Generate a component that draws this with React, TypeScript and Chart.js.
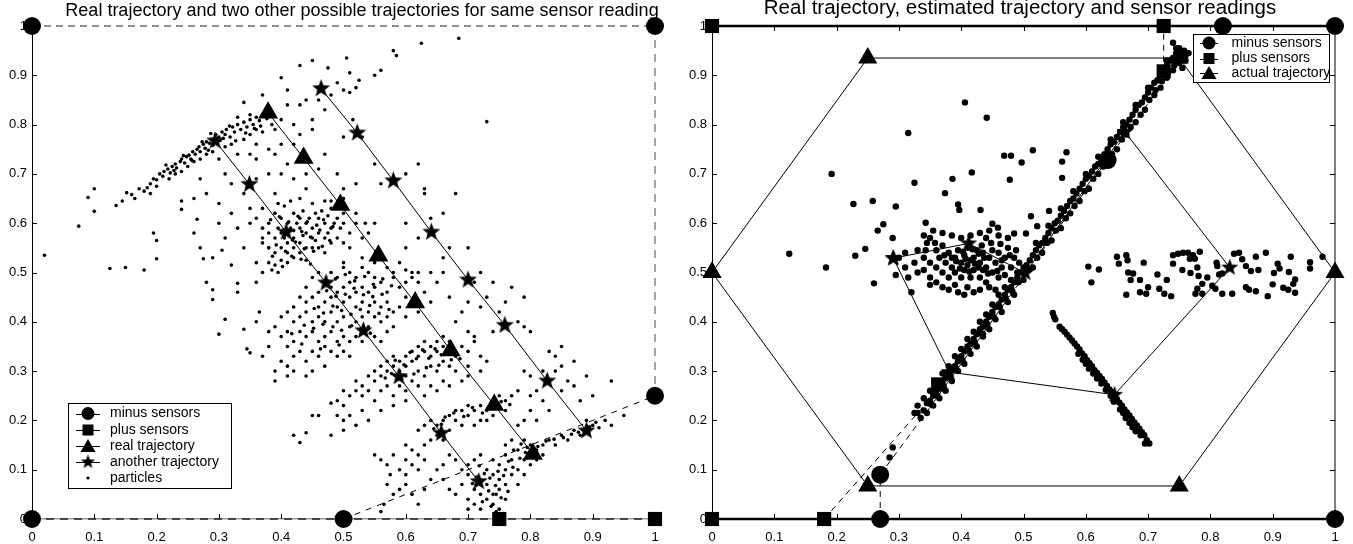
import React, { useEffect, useRef } from "react";
import { Chart, registerables } from "chart.js";

Chart.register(...registerables);

const FONT = "'Liberation Sans', Arial, Helvetica, sans-serif";

const tickValues = [0, 0.1, 0.2, 0.3, 0.4, 0.5, 0.6, 0.7, 0.8, 0.9, 1];
const tickLabels = ["0", "0.1", "0.2", "0.3", "0.4", "0.5", "0.6", "0.7", "0.8", "0.9", "1"];

// ---------------- LEFT CHART DATA ----------------
const leftTitle = "Real trajectory and two other possible trajectories for same sensor reading";
const leftLegendLabels = ["minus sensors", "plus sensors", "real trajectory", "another trajectory", "particles"];

const leftMinusX = [0, 1, 0, 0.5, 1];
const leftMinusY = [1, 1, 0, 0, 0.25];
const leftPlusX = [0.75, 1];
const leftPlusY = [0, 0];
const leftRealX = [0.379, 0.436, 0.495, 0.556, 0.615, 0.672, 0.742, 0.804];
const leftRealY = [0.824, 0.732, 0.637, 0.534, 0.439, 0.342, 0.231, 0.132];
const leftStarAX = [0.294, 0.349, 0.408, 0.472, 0.532, 0.589, 0.657, 0.717];
const leftStarAY = [0.767, 0.679, 0.582, 0.479, 0.382, 0.289, 0.174, 0.076];
const leftStarBX = [0.464, 0.522, 0.58, 0.641, 0.7, 0.759, 0.827, 0.89];
const leftStarBY = [0.873, 0.783, 0.686, 0.582, 0.485, 0.393, 0.28, 0.179];
const leftTopLineX = [0, 1];
const leftTopLineY = [1, 1];
const leftRightLineX = [1, 1];
const leftRightLineY = [1, 0.25];
const leftDiagLineX = [0.5, 1];
const leftDiagLineY = [0, 0.25];
const leftBottomLineX = [0, 1];
const leftBottomLineY = [0, 0];

const leftStreak: [number, number][] = [
  [0.135, 0.636], [0.145, 0.645], [0.152, 0.662], [0.16, 0.658], [0.165, 0.65], [0.172, 0.67], [0.18, 0.665],
  [0.185, 0.672], [0.19, 0.68], [0.195, 0.69], [0.2, 0.688], [0.205, 0.7], [0.21, 0.695], [0.212, 0.705],
  [0.218, 0.71], [0.222, 0.702], [0.225, 0.715], [0.23, 0.72], [0.232, 0.712], [0.238, 0.725], [0.24, 0.73],
  [0.245, 0.722], [0.248, 0.735], [0.252, 0.738], [0.255, 0.73], [0.258, 0.745], [0.262, 0.74], [0.265, 0.75],
  [0.268, 0.755], [0.27, 0.745], [0.275, 0.76], [0.278, 0.752], [0.28, 0.765], [0.285, 0.762], [0.288, 0.77],
  [0.29, 0.758], [0.295, 0.78], [0.3, 0.775], [0.302, 0.768], [0.305, 0.785], [0.31, 0.78], [0.312, 0.79],
  [0.318, 0.775], [0.322, 0.795], [0.325, 0.785], [0.33, 0.8], [0.335, 0.79], [0.34, 0.805], [0.345, 0.795],
  [0.35, 0.81], [0.355, 0.8], [0.36, 0.815], [0.365, 0.808], [0.37, 0.82], [0.2, 0.675], [0.22, 0.69],
  [0.24, 0.705], [0.26, 0.725], [0.27, 0.73], [0.29, 0.745], [0.31, 0.755], [0.25, 0.715], [0.19, 0.66],
  [0.23, 0.7], [0.28, 0.74], [0.3, 0.73], [0.32, 0.76], [0.34, 0.77], [0.33, 0.74], [0.35, 0.78], [0.36, 0.76],
  [0.215, 0.718], [0.228, 0.707], [0.243, 0.737], [0.257, 0.727], [0.273, 0.765], [0.283, 0.748],
  [0.297, 0.763], [0.307, 0.772], [0.317, 0.797], [0.327, 0.767], [0.343, 0.783], [0.357, 0.792],
  [0.367, 0.797], [0.377, 0.812], [0.287, 0.782],
];

const leftScatterWest: [number, number][] = [
  [0.02, 0.535], [0.075, 0.594], [0.09, 0.652], [0.1, 0.67], [0.1, 0.624], [0.125, 0.508], [0.15, 0.51],
  [0.18, 0.505], [0.195, 0.58], [0.2, 0.528], [0.2, 0.565], [0.24, 0.628], [0.24, 0.645], [0.26, 0.58],
  [0.265, 0.608], [0.27, 0.55], [0.275, 0.528], [0.28, 0.48], [0.29, 0.53], [0.29, 0.465], [0.29, 0.445],
  [0.3, 0.375], [0.31, 0.405], [0.33, 0.478], [0.33, 0.46], [0.34, 0.385], [0.345, 0.345], [0.35, 0.337],
  [0.3, 0.6], [0.31, 0.57], [0.32, 0.62], [0.33, 0.59], [0.34, 0.55], [0.35, 0.6], [0.36, 0.52], [0.37, 0.57],
  [0.28, 0.66], [0.3, 0.64], [0.32, 0.68], [0.34, 0.66], [0.36, 0.69], [0.38, 0.7], [0.39, 0.66], [0.4, 0.7],
  [0.42, 0.69], [0.44, 0.67], [0.31, 0.7], [0.27, 0.69], [0.26, 0.65], [0.32, 0.515], [0.305, 0.545],
  [0.38, 0.55], [0.37, 0.5], [0.36, 0.48],
];

const leftScatterNorth: [number, number][] = [
  [0.43, 0.92], [0.45, 0.93], [0.4, 0.895], [0.41, 0.87], [0.475, 0.915], [0.505, 0.935], [0.51, 0.905],
  [0.49, 0.885], [0.52, 0.875], [0.5, 0.87], [0.51, 0.865], [0.44, 0.85], [0.43, 0.84], [0.41, 0.84],
  [0.45, 0.81], [0.4, 0.81], [0.42, 0.8], [0.39, 0.79], [0.37, 0.785], [0.36, 0.79], [0.35, 0.82],
  [0.33, 0.815], [0.34, 0.845], [0.37, 0.86], [0.38, 0.83], [0.385, 0.8], [0.46, 0.85], [0.48, 0.86],
  [0.47, 0.83], [0.45, 0.79], [0.43, 0.78], [0.42, 0.76], [0.4, 0.76], [0.38, 0.75], [0.36, 0.73],
  [0.35, 0.74], [0.39, 0.74], [0.41, 0.72], [0.44, 0.7], [0.46, 0.71], [0.47, 0.74], [0.515, 0.81],
  [0.525, 0.89], [0.55, 0.9], [0.56, 0.91], [0.58, 0.95], [0.585, 0.94], [0.625, 0.965], [0.685, 0.975],
  [0.73, 0.806], [0.53, 0.775], [0.5, 0.775], [0.49, 0.7], [0.5, 0.67], [0.52, 0.68], [0.48, 0.645],
  [0.5, 0.65], [0.55, 0.72], [0.56, 0.68], [0.55, 0.6], [0.6, 0.6], [0.6, 0.7], [0.62, 0.72], [0.63, 0.66],
  [0.64, 0.61], [0.66, 0.53], [0.67, 0.55], [0.59, 0.52], [0.6, 0.55], [0.61, 0.49], [0.62, 0.5],
];

const leftClusterMid: [number, number][] = [
  [0.38, 0.6], [0.39, 0.62], [0.4, 0.61], [0.41, 0.6], [0.42, 0.62], [0.43, 0.61], [0.44, 0.6], [0.45, 0.59],
  [0.46, 0.61], [0.47, 0.6], [0.48, 0.59], [0.49, 0.61], [0.4, 0.58], [0.41, 0.56], [0.42, 0.57], [0.43, 0.59],
  [0.44, 0.58], [0.45, 0.57], [0.46, 0.58], [0.47, 0.57], [0.48, 0.56], [0.39, 0.57], [0.38, 0.58], [0.37, 0.59],
  [0.37, 0.56], [0.38, 0.55], [0.39, 0.54], [0.4, 0.55], [0.41, 0.54], [0.42, 0.55], [0.43, 0.56], [0.44, 0.55],
  [0.45, 0.55], [0.42, 0.53], [0.41, 0.52], [0.4, 0.525], [0.39, 0.515], [0.38, 0.52], [0.385, 0.505],
  [0.395, 0.5], [0.43, 0.54], [0.44, 0.525], [0.46, 0.55], [0.47, 0.54], [0.415, 0.59], [0.425, 0.6],
  [0.435, 0.625], [0.445, 0.61], [0.455, 0.62], [0.465, 0.625], [0.475, 0.615], [0.485, 0.6], [0.495, 0.59],
  [0.5, 0.6], [0.51, 0.58], [0.52, 0.6], [0.5, 0.56], [0.49, 0.57], [0.405, 0.635], [0.395, 0.64],
  [0.415, 0.645], [0.43, 0.65], [0.45, 0.64], [0.47, 0.645], [0.48, 0.63], [0.36, 0.61], [0.35, 0.63],
  [0.37, 0.63], [0.42, 0.585], [0.435, 0.575], [0.455, 0.565], [0.405, 0.57], [0.395, 0.59], [0.475, 0.58],
  [0.5, 0.62], [0.52, 0.62], [0.53, 0.57], [0.51, 0.55], [0.535, 0.6], [0.54, 0.58],
  [0.383, 0.607], [0.397, 0.613], [0.412, 0.603], [0.427, 0.614], [0.442, 0.603], [0.457, 0.596],
  [0.468, 0.607], [0.483, 0.593], [0.404, 0.586], [0.418, 0.566], [0.433, 0.583], [0.447, 0.572],
  [0.462, 0.586], [0.478, 0.565], [0.392, 0.556], [0.407, 0.543], [0.423, 0.562], [0.437, 0.548],
  [0.452, 0.543], [0.466, 0.553], [0.386, 0.533], [0.402, 0.512], [0.417, 0.533], [0.432, 0.527], [0.447, 0.517],
];

const leftCloudCentral: [number, number][] = [
  [0.48, 0.5], [0.49, 0.49], [0.5, 0.51], [0.51, 0.5], [0.52, 0.49], [0.53, 0.51], [0.54, 0.5], [0.55, 0.49],
  [0.47, 0.48], [0.48, 0.47], [0.49, 0.46], [0.5, 0.47], [0.51, 0.48], [0.52, 0.46], [0.53, 0.47], [0.54, 0.46],
  [0.55, 0.47], [0.56, 0.48], [0.57, 0.46], [0.58, 0.49], [0.59, 0.47], [0.6, 0.48], [0.61, 0.5], [0.46, 0.46],
  [0.45, 0.45], [0.44, 0.44], [0.43, 0.45], [0.42, 0.43], [0.46, 0.43], [0.47, 0.44], [0.48, 0.45], [0.49, 0.43],
  [0.5, 0.44], [0.51, 0.45], [0.52, 0.43], [0.53, 0.44], [0.54, 0.42], [0.55, 0.44], [0.56, 0.43], [0.57, 0.44],
  [0.58, 0.42], [0.59, 0.43], [0.6, 0.45], [0.41, 0.42], [0.4, 0.41], [0.42, 0.4], [0.43, 0.41], [0.44, 0.42],
  [0.45, 0.4], [0.46, 0.41], [0.47, 0.4], [0.48, 0.42], [0.49, 0.4], [0.5, 0.41], [0.51, 0.39], [0.52, 0.4],
  [0.53, 0.41], [0.54, 0.39], [0.55, 0.41], [0.56, 0.4], [0.57, 0.41], [0.58, 0.39], [0.39, 0.39], [0.38, 0.38],
  [0.4, 0.37], [0.41, 0.38], [0.42, 0.36], [0.43, 0.38], [0.44, 0.37], [0.45, 0.38], [0.46, 0.36], [0.47, 0.37],
  [0.48, 0.38], [0.49, 0.36], [0.5, 0.37], [0.51, 0.36], [0.52, 0.37], [0.53, 0.36], [0.55, 0.37], [0.56, 0.36],
  [0.57, 0.38], [0.41, 0.35], [0.42, 0.33], [0.43, 0.34], [0.44, 0.32], [0.45, 0.34], [0.46, 0.33], [0.47, 0.35],
  [0.48, 0.34], [0.49, 0.33], [0.5, 0.34], [0.51, 0.33], [0.4, 0.32], [0.39, 0.3], [0.41, 0.31], [0.42, 0.3],
  [0.44, 0.29], [0.45, 0.3], [0.47, 0.31], [0.39, 0.28], [0.41, 0.29], [0.37, 0.33], [0.38, 0.35], [0.36, 0.4],
  [0.365, 0.42], [0.5, 0.52], [0.46, 0.5], [0.45, 0.49], [0.44, 0.47], [0.53, 0.53], [0.55, 0.52], [0.57, 0.51],
  [0.58, 0.5], [0.6, 0.505], [0.62, 0.48], [0.63, 0.46], [0.61, 0.44], [0.62, 0.42], [0.6, 0.41], [0.64, 0.44],
  [0.487, 0.487], [0.503, 0.496], [0.518, 0.483], [0.534, 0.492], [0.548, 0.476], [0.563, 0.487],
  [0.473, 0.463], [0.488, 0.452], [0.503, 0.456], [0.517, 0.468], [0.532, 0.455], [0.547, 0.451],
  [0.562, 0.456], [0.577, 0.473], [0.453, 0.427], [0.468, 0.418], [0.483, 0.432], [0.497, 0.423],
  [0.512, 0.415], [0.527, 0.425], [0.542, 0.433], [0.557, 0.417], [0.573, 0.425], [0.437, 0.393],
  [0.452, 0.387], [0.467, 0.395], [0.483, 0.39], [0.497, 0.383], [0.513, 0.392], [0.528, 0.385],
  [0.543, 0.377], [0.417, 0.376], [0.433, 0.355], [0.463, 0.345], [0.493, 0.353],
];

const leftBandLower: [number, number][] = [
  [0.48, 0.235], [0.49, 0.24], [0.5, 0.23], [0.51, 0.25], [0.5, 0.26], [0.52, 0.26], [0.53, 0.25], [0.52, 0.28],
  [0.53, 0.27], [0.54, 0.29], [0.55, 0.28], [0.54, 0.26], [0.55, 0.3], [0.56, 0.29], [0.56, 0.31], [0.57, 0.3],
  [0.57, 0.32], [0.58, 0.31], [0.58, 0.33], [0.59, 0.32], [0.59, 0.3], [0.6, 0.33], [0.6, 0.31], [0.61, 0.34],
  [0.61, 0.32], [0.62, 0.35], [0.62, 0.33], [0.63, 0.34], [0.63, 0.36], [0.64, 0.35], [0.64, 0.33], [0.65, 0.36],
  [0.65, 0.34], [0.66, 0.37], [0.66, 0.35], [0.67, 0.36], [0.68, 0.33], [0.69, 0.35], [0.7, 0.34], [0.71, 0.36],
  [0.6, 0.29], [0.61, 0.28], [0.62, 0.3], [0.63, 0.29], [0.64, 0.31], [0.65, 0.3], [0.66, 0.32], [0.67, 0.31],
  [0.68, 0.3], [0.7, 0.31], [0.56, 0.26], [0.57, 0.27], [0.58, 0.25], [0.59, 0.27], [0.6, 0.26], [0.62, 0.27],
  [0.63, 0.25], [0.64, 0.27], [0.65, 0.26], [0.55, 0.24], [0.53, 0.22], [0.51, 0.21], [0.5, 0.2], [0.49, 0.21],
  [0.46, 0.21], [0.45, 0.21], [0.48, 0.17], [0.54, 0.2], [0.56, 0.22], [0.58, 0.23], [0.6, 0.24], [0.5, 0.18],
  [0.52, 0.19], [0.42, 0.17], [0.43, 0.155], [0.44, 0.175], [0.66, 0.28], [0.67, 0.27], [0.69, 0.28],
  [0.7, 0.29], [0.72, 0.3], [0.73, 0.32], [0.72, 0.33],
  [0.583, 0.322], [0.597, 0.313], [0.607, 0.338], [0.617, 0.325], [0.627, 0.343], [0.637, 0.326],
  [0.647, 0.345], [0.657, 0.333], [0.567, 0.286], [0.577, 0.295], [0.593, 0.283], [0.613, 0.294],
  [0.633, 0.307], [0.653, 0.312], [0.673, 0.323], [0.687, 0.325],
];

const leftBandSouthEast: [number, number][] = [
  [0.62, 0.18], [0.63, 0.19], [0.64, 0.2], [0.65, 0.19], [0.66, 0.2], [0.67, 0.21], [0.68, 0.2], [0.69, 0.22],
  [0.7, 0.21], [0.71, 0.22], [0.72, 0.23], [0.73, 0.22], [0.74, 0.24], [0.75, 0.25], [0.76, 0.24], [0.77, 0.25],
  [0.78, 0.26], [0.68, 0.22], [0.7, 0.23], [0.72, 0.2], [0.69, 0.19], [0.67, 0.18], [0.65, 0.17], [0.66, 0.16],
  [0.64, 0.16], [0.63, 0.15], [0.6, 0.15], [0.61, 0.14], [0.62, 0.13], [0.71, 0.19], [0.73, 0.2], [0.74, 0.21],
  [0.76, 0.22], [0.79, 0.2], [0.8, 0.22], [0.78, 0.19], [0.8, 0.25], [0.81, 0.26], [0.82, 0.24], [0.83, 0.22],
  [0.8, 0.29], [0.82, 0.3], [0.84, 0.3], [0.86, 0.28], [0.87, 0.27], [0.85, 0.26], [0.88, 0.24], [0.89, 0.29],
  [0.9, 0.25], [0.93, 0.28], [0.84, 0.33], [0.85, 0.31], [0.79, 0.3], [0.81, 0.2],
  [0.663, 0.207], [0.677, 0.215], [0.693, 0.208], [0.707, 0.226], [0.723, 0.215], [0.737, 0.232],
  [0.753, 0.238], [0.767, 0.232], [0.645, 0.183], [0.657, 0.192],
];

const leftClusterBottom: [number, number][] = [
  [0.56, 0.015], [0.565, 0.03], [0.55, 0.13], [0.56, 0.12], [0.57, 0.11], [0.58, 0.13], [0.575, 0.09],
  [0.59, 0.1], [0.6, 0.09], [0.61, 0.11], [0.62, 0.1], [0.6, 0.12], [0.57, 0.07], [0.59, 0.06], [0.61, 0.05],
  [0.63, 0.06], [0.64, 0.08], [0.65, 0.1], [0.66, 0.11], [0.67, 0.13], [0.68, 0.12], [0.66, 0.08], [0.67, 0.06],
  [0.68, 0.05], [0.69, 0.07], [0.7, 0.09], [0.7, 0.04], [0.71, 0.06], [0.72, 0.05], [0.73, 0.04], [0.72, 0.02],
  [0.73, 0.1], [0.74, 0.09], [0.75, 0.08], [0.76, 0.1], [0.74, 0.12], [0.75, 0.11], [0.76, 0.13], [0.77, 0.12],
  [0.78, 0.14], [0.79, 0.12], [0.8, 0.11], [0.78, 0.1], [0.77, 0.09], [0.75, 0.06], [0.76, 0.07], [0.74, 0.05],
  [0.73, 0.07], [0.74, 0.03], [0.75, 0.02], [0.745, 0.05], [0.76, 0.04], [0.7, 0.02], [0.71, 0.03], [0.78, 0.07],
  [0.79, 0.09], [0.8, 0.13], [0.81, 0.14], [0.82, 0.15], [0.83, 0.16], [0.84, 0.15], [0.85, 0.17], [0.86, 0.16],
  [0.87, 0.18], [0.88, 0.17], [0.9, 0.19], [0.92, 0.2], [0.93, 0.19], [0.95, 0.21], [0.91, 0.185], [0.89, 0.2],
  [0.77, 0.16], [0.76, 0.15], [0.79, 0.16], [0.8, 0.15], [0.81, 0.12], [0.82, 0.13], [0.72, 0.13], [0.71, 0.12],
  [0.7, 0.11], [0.69, 0.1], [0.63, 0.12], [0.6, 0.07], [0.58, 0.05], [0.62, 0.03],
  [0.713, 0.085], [0.726, 0.092], [0.735, 0.083], [0.748, 0.097], [0.757, 0.088], [0.765, 0.117],
  [0.772, 0.105], [0.783, 0.123], [0.792, 0.135], [0.803, 0.142], [0.733, 0.057], [0.744, 0.068],
  [0.753, 0.043], [0.764, 0.056], [0.723, 0.035], [0.737, 0.026], [0.745, 0.015], [0.707, 0.072],
  [0.718, 0.108], [0.812, 0.147], [0.825, 0.158], [0.838, 0.162], [0.853, 0.165], [0.866, 0.172],
  [0.877, 0.176], [0.895, 0.187], [0.905, 0.196], [0.795, 0.145], [0.785, 0.152], [0.773, 0.14],
];

const leftScatterEast: [number, number][] = [
  [0.68, 0.4], [0.69, 0.42], [0.7, 0.44], [0.72, 0.43], [0.73, 0.45], [0.75, 0.42], [0.76, 0.44], [0.78, 0.4],
  [0.79, 0.39], [0.8, 0.38], [0.7, 0.38], [0.71, 0.37], [0.74, 0.38], [0.67, 0.45], [0.65, 0.48], [0.64, 0.5],
  [0.66, 0.5], [0.71, 0.48], [0.74, 0.48], [0.72, 0.5], [0.77, 0.47], [0.79, 0.45], [0.83, 0.34], [0.85, 0.35],
  [0.87, 0.32], [0.62, 0.57], [0.66, 0.62], [0.68, 0.66], [0.63, 0.67], [0.7, 0.55],
];

// ---------------- RIGHT CHART DATA ----------------
const rightTitle = "Real trajectory, estimated trajectory and sensor readings";
const rightLegendLabels = ["minus sensors", "plus sensors", "actual trajectory"];

const rightActualX = [0, 0.25, 0.75, 1, 0.75, 0.25, 0];
const rightActualY = [0.5, 0.067, 0.067, 0.5, 0.935, 0.935, 0.5];
const rightEstX = [0.291, 0.381, 0.646, 0.831, 0.663, 0.503, 0.412, 0.291];
const rightEstY = [0.529, 0.298, 0.252, 0.51, 0.785, 0.499, 0.559, 0.529];
const rightMinusX = [0.82, 1, 0.27, 1, 0.27, 0.635];
const rightMinusY = [1, 1, 0, 0, 0.09, 0.728];
const rightPlusX = [0, 0.725, 0, 0.18, 0.725, 0.363];
const rightPlusY = [1, 1, 0, 0, 0.908, 0.273];
const rightPlusLineX = [0.18, 0.335, 0.725, 0.725];
const rightPlusLineY = [0, 0.222, 0.908, 1];
const rightMinusLineX = [0.27, 0.27, 0.345, 0.755];
const rightMinusLineY = [0, 0.09, 0.218, 0.94];
const rightTopLineX = [0, 1];
const rightTopLineY = [1, 1];
const rightBottomLineX = [0, 1];
const rightBottomLineY = [0, 0];
const rightEdgeLineX = [1, 1];
const rightEdgeLineY = [0, 1];

const rightDiagonal: [number, number][] = [
  [0.33, 0.215], [0.34, 0.22], [0.345, 0.235], [0.35, 0.24], [0.355, 0.25], [0.36, 0.26], [0.365, 0.265],
  [0.37, 0.275], [0.375, 0.285], [0.38, 0.295], [0.385, 0.305], [0.39, 0.31], [0.395, 0.32], [0.4, 0.33],
  [0.405, 0.34], [0.41, 0.35], [0.415, 0.355], [0.42, 0.365], [0.425, 0.375], [0.43, 0.385], [0.435, 0.39],
  [0.44, 0.4], [0.445, 0.41], [0.45, 0.42], [0.455, 0.43], [0.46, 0.435], [0.465, 0.445], [0.47, 0.455],
  [0.475, 0.465], [0.48, 0.47], [0.485, 0.48], [0.49, 0.49], [0.495, 0.5], [0.5, 0.51], [0.505, 0.515],
  [0.51, 0.525], [0.515, 0.535], [0.52, 0.545], [0.525, 0.555], [0.53, 0.56], [0.535, 0.57], [0.54, 0.58],
  [0.545, 0.59], [0.55, 0.6], [0.555, 0.605], [0.56, 0.615], [0.565, 0.625], [0.57, 0.635], [0.575, 0.645],
  [0.58, 0.65], [0.585, 0.66], [0.59, 0.67], [0.595, 0.68], [0.6, 0.69], [0.605, 0.695], [0.61, 0.705],
  [0.615, 0.715], [0.62, 0.72], [0.625, 0.73], [0.63, 0.74], [0.635, 0.75], [0.64, 0.76], [0.645, 0.765],
  [0.65, 0.775], [0.655, 0.785], [0.66, 0.795], [0.665, 0.8], [0.67, 0.81], [0.675, 0.82], [0.68, 0.83],
  [0.685, 0.84], [0.69, 0.845], [0.695, 0.855], [0.7, 0.865], [0.705, 0.875], [0.71, 0.885], [0.715, 0.89],
  [0.72, 0.9], [0.725, 0.91], [0.73, 0.92], [0.735, 0.93], [0.74, 0.935], [0.745, 0.945], [0.75, 0.955],
  [0.74, 0.966], [0.755, 0.935], [0.76, 0.94],
];

const rightDiagonalEdge: [number, number][] = [
  [0.345, 0.215], [0.355, 0.23], [0.365, 0.245], [0.375, 0.26], [0.385, 0.28], [0.395, 0.3], [0.405, 0.315],
  [0.415, 0.335], [0.425, 0.35], [0.435, 0.37], [0.445, 0.385], [0.455, 0.405], [0.465, 0.42], [0.475, 0.44],
  [0.485, 0.455], [0.5, 0.485], [0.515, 0.51], [0.53, 0.54], [0.545, 0.565], [0.56, 0.59], [0.575, 0.62],
  [0.59, 0.645], [0.605, 0.67], [0.62, 0.7], [0.635, 0.725], [0.65, 0.75], [0.665, 0.78], [0.68, 0.805],
  [0.695, 0.83], [0.71, 0.86], [0.72, 0.875], [0.73, 0.895], [0.74, 0.91], [0.75, 0.925], [0.76, 0.93],
  [0.755, 0.915], [0.745, 0.93], [0.765, 0.945], [0.33, 0.23], [0.34, 0.245], [0.35, 0.26], [0.36, 0.28],
  [0.37, 0.295], [0.38, 0.31], [0.39, 0.33], [0.4, 0.345], [0.41, 0.365], [0.42, 0.38], [0.43, 0.4],
  [0.44, 0.415], [0.45, 0.435], [0.46, 0.455], [0.52, 0.56], [0.54, 0.595], [0.56, 0.63], [0.58, 0.665],
  [0.6, 0.7], [0.62, 0.735], [0.64, 0.77], [0.66, 0.805], [0.68, 0.84], [0.7, 0.875], [0.72, 0.91],
  [0.73, 0.93], [0.29, 0.145], [0.285, 0.125], [0.325, 0.215], [0.335, 0.205], [0.43, 0.38], [0.435, 0.375],
  [0.352, 0.232], [0.362, 0.25], [0.372, 0.268], [0.382, 0.288], [0.392, 0.305], [0.402, 0.322],
  [0.412, 0.342], [0.422, 0.358], [0.432, 0.377], [0.442, 0.395], [0.452, 0.41], [0.462, 0.43],
  [0.472, 0.447], [0.482, 0.462], [0.492, 0.48], [0.508, 0.505], [0.522, 0.53], [0.538, 0.56],
  [0.552, 0.585], [0.568, 0.61], [0.582, 0.635], [0.598, 0.665], [0.612, 0.69], [0.628, 0.715],
  [0.642, 0.74], [0.658, 0.77], [0.672, 0.795], [0.688, 0.82], [0.702, 0.85], [0.712, 0.87], [0.722, 0.888],
  [0.732, 0.905], [0.742, 0.92], [0.752, 0.94], [0.745, 0.955], [0.758, 0.95],
];

const rightOutliersWest: [number, number][] = [
  [0.124, 0.538], [0.183, 0.51], [0.192, 0.7], [0.227, 0.639], [0.23, 0.534], [0.258, 0.645], [0.26, 0.478],
  [0.266, 0.585], [0.246, 0.548], [0.275, 0.598], [0.29, 0.57], [0.295, 0.634], [0.295, 0.495], [0.315, 0.783],
  [0.325, 0.682], [0.343, 0.601], [0.374, 0.661], [0.386, 0.69], [0.395, 0.638], [0.397, 0.627], [0.406, 0.845],
  [0.417, 0.703], [0.431, 0.627], [0.441, 0.814], [0.469, 0.737], [0.48, 0.737], [0.478, 0.688], [0.497, 0.723],
  [0.515, 0.748], [0.562, 0.725], [0.569, 0.744], [0.562, 0.692], [0.512, 0.614], [0.541, 0.625],
  [0.522, 0.594], [0.504, 0.579], [0.485, 0.579], [0.459, 0.591], [0.45, 0.599], [0.44, 0.57], [0.428, 0.538],
];

const rightClusterWest: [number, number][] = [
  [0.3, 0.53], [0.31, 0.54], [0.33, 0.545], [0.34, 0.53], [0.345, 0.56], [0.35, 0.57], [0.35, 0.52],
  [0.36, 0.545], [0.36, 0.51], [0.365, 0.53], [0.37, 0.5], [0.37, 0.555], [0.375, 0.52], [0.38, 0.54],
  [0.38, 0.49], [0.385, 0.51], [0.39, 0.53], [0.39, 0.5], [0.395, 0.545], [0.4, 0.52], [0.4, 0.49],
  [0.405, 0.535], [0.405, 0.505], [0.41, 0.55], [0.41, 0.515], [0.415, 0.49], [0.42, 0.53], [0.42, 0.505],
  [0.425, 0.545], [0.43, 0.52], [0.43, 0.49], [0.435, 0.54], [0.44, 0.51], [0.44, 0.48], [0.445, 0.53],
  [0.45, 0.5], [0.45, 0.545], [0.455, 0.52], [0.46, 0.49], [0.46, 0.54], [0.465, 0.51], [0.47, 0.53],
  [0.47, 0.495], [0.475, 0.55], [0.48, 0.51], [0.48, 0.485], [0.485, 0.53], [0.49, 0.5], [0.38, 0.465],
  [0.39, 0.475], [0.41, 0.47], [0.42, 0.46], [0.43, 0.465], [0.36, 0.48], [0.35, 0.49], [0.34, 0.505],
  [0.33, 0.5], [0.32, 0.46], [0.315, 0.49], [0.35, 0.475], [0.37, 0.47], [0.395, 0.46], [0.405, 0.455],
  [0.445, 0.47], [0.455, 0.465], [0.47, 0.47], [0.34, 0.575], [0.355, 0.585], [0.37, 0.58], [0.385, 0.575],
  [0.4, 0.57], [0.415, 0.575], [0.43, 0.58], [0.445, 0.585], [0.46, 0.575], [0.475, 0.57], [0.31, 0.51],
  [0.325, 0.52], [0.385, 0.53], [0.415, 0.525], [0.435, 0.505], [0.465, 0.525],
  [0.392, 0.523], [0.407, 0.528], [0.422, 0.518], [0.437, 0.53], [0.398, 0.508], [0.413, 0.502],
  [0.428, 0.51], [0.443, 0.498], [0.458, 0.503], [0.403, 0.542], [0.418, 0.547], [0.433, 0.555],
  [0.448, 0.56], [0.463, 0.558], [0.478, 0.535], [0.493, 0.52], [0.488, 0.545], [0.373, 0.535],
  [0.358, 0.56], [0.343, 0.545],
];

const rightBandEast: [number, number][] = [
  [0.604, 0.512], [0.621, 0.506], [0.609, 0.48], [0.65, 0.532], [0.665, 0.535], [0.653, 0.518], [0.667, 0.525],
  [0.668, 0.5], [0.676, 0.498], [0.672, 0.485], [0.687, 0.485], [0.693, 0.52], [0.665, 0.455], [0.687, 0.46],
  [0.7, 0.47], [0.697, 0.457], [0.715, 0.496], [0.718, 0.467], [0.726, 0.457], [0.73, 0.485], [0.737, 0.452],
  [0.74, 0.535], [0.748, 0.538], [0.756, 0.54], [0.764, 0.54], [0.772, 0.535], [0.783, 0.542], [0.775, 0.528],
  [0.767, 0.528], [0.74, 0.518], [0.755, 0.505], [0.768, 0.499], [0.779, 0.51], [0.781, 0.493], [0.795, 0.49],
  [0.787, 0.477], [0.779, 0.467], [0.776, 0.457], [0.787, 0.457], [0.803, 0.473], [0.808, 0.467],
  [0.819, 0.457], [0.811, 0.513], [0.814, 0.496], [0.819, 0.498], [0.835, 0.457], [0.838, 0.538],
  [0.846, 0.54], [0.851, 0.527], [0.857, 0.513], [0.865, 0.503], [0.873, 0.532], [0.877, 0.505], [0.857, 0.47],
  [0.862, 0.465], [0.873, 0.462], [0.889, 0.54], [0.892, 0.452], [0.9, 0.476], [0.902, 0.499], [0.908, 0.518],
  [0.911, 0.508], [0.917, 0.469], [0.925, 0.465], [0.926, 0.501], [0.933, 0.477], [0.936, 0.486],
  [0.936, 0.459], [0.929, 0.532], [0.96, 0.521], [0.96, 0.508], [0.98, 0.532], [0.81, 0.52],
];

const rightStreakSouth: [number, number][] = [
  [0.547, 0.418], [0.549, 0.41], [0.551, 0.405], [0.558, 0.39], [0.562, 0.385], [0.566, 0.38], [0.57, 0.374],
  [0.574, 0.368], [0.578, 0.362], [0.582, 0.356], [0.586, 0.35], [0.59, 0.344], [0.594, 0.336], [0.598, 0.33],
  [0.602, 0.322], [0.606, 0.316], [0.61, 0.31], [0.614, 0.302], [0.618, 0.296], [0.622, 0.29], [0.626, 0.284],
  [0.63, 0.277], [0.634, 0.27], [0.638, 0.263], [0.642, 0.257], [0.646, 0.25], [0.65, 0.243], [0.654, 0.236],
  [0.658, 0.23], [0.662, 0.222], [0.666, 0.216], [0.67, 0.21], [0.674, 0.203], [0.678, 0.196], [0.682, 0.19],
  [0.686, 0.183], [0.69, 0.176], [0.694, 0.17], [0.698, 0.16], [0.702, 0.153], [0.695, 0.153], [0.688, 0.17],
  [0.68, 0.178], [0.675, 0.186], [0.67, 0.195], [0.664, 0.205], [0.66, 0.215], [0.655, 0.222], [0.645, 0.238],
  [0.64, 0.25], [0.632, 0.262], [0.625, 0.275], [0.618, 0.285], [0.612, 0.295], [0.605, 0.305], [0.6, 0.315],
  [0.595, 0.323], [0.588, 0.335],
];

// ---------------- helpers ----------------
const xy = (xs: number[], ys: number[]) => xs.map((x, i) => ({ x, y: ys[i] }));
const pairs = (...lists: [number, number][][]) => lists.flat().map(([x, y]) => ({ x, y }));

function makeStar(r: number): HTMLCanvasElement {
  const c = document.createElement("canvas");
  const s = Math.ceil(r * 2 + 2);
  c.width = s;
  c.height = s;
  const ctx = c.getContext("2d")!;
  ctx.beginPath();
  for (let i = 0; i < 10; i++) {
    const rad = i % 2 === 0 ? r : r * 0.42;
    const a = -Math.PI / 2 + (i * Math.PI) / 5;
    ctx.lineTo(s / 2 + rad * Math.cos(a), s / 2 + rad * Math.sin(a));
  }
  ctx.closePath();
  ctx.fillStyle = "#000";
  ctx.fill();
  return c;
}

function lineDs(data: any[], extra: any = {}) {
  return { data, showLine: true, borderColor: "#000", borderWidth: 1, pointRadius: 0, fill: false, clip: false, ...extra };
}
function markDs(data: any[], style: any, radius: number, extra: any = {}) {
  return {
    data, showLine: false, pointStyle: style, pointRadius: radius, backgroundColor: "#000",
    borderColor: "#000", borderWidth: 0, clip: false, ...extra,
  };
}

function axis(kind: "x" | "y", border: any, size: number) {
  return {
    type: "linear",
    min: 0,
    max: 1,
    afterBuildTicks: (s: any) => {
      s.ticks = tickValues.map((v) => ({ value: v }));
    },
    afterFit: (s: any) => {
      if (kind === "x") s.height = size;
      else s.width = size;
    },
    grid: { display: false, drawTicks: false },
    border,
    ticks: {
      autoSkip: false,
      maxRotation: 0,
      padding: kind === "x" ? 11 : 5,
      color: "#000",
      font: { family: FONT, size: 13 },
      callback: (_v: any, i: number) => tickLabels[i],
    },
  };
}

type LegendItem = { label: string; marker: string; line: boolean };

function drawMarker(ctx: CanvasRenderingContext2D, kind: string, x: number, y: number, star: HTMLCanvasElement) {
  ctx.fillStyle = "#000";
  ctx.beginPath();
  if (kind === "circle") {
    ctx.arc(x, y, 6.5, 0, Math.PI * 2);
    ctx.fill();
  } else if (kind === "rect") {
    ctx.fillRect(x - 5.5, y - 5.5, 11, 11);
  } else if (kind === "triangle") {
    ctx.moveTo(x, y - 7);
    ctx.lineTo(x + 7.5, y + 6);
    ctx.lineTo(x - 7.5, y + 6);
    ctx.closePath();
    ctx.fill();
  } else if (kind === "star") {
    ctx.drawImage(star, x - star.width / 2, y - star.height / 2);
  } else {
    ctx.arc(x, y, 1.6, 0, Math.PI * 2);
    ctx.fill();
  }
}

function decorPlugin(cfg: {
  title: string; titleSize: number; titleX: number; titleY: number;
  ticks: { top: boolean; right: boolean };
  legend: { x: number; y: number; w: number; h: number; rows: number[]; mx: number; half: number; tx: number; items: LegendItem[] };
  star: HTMLCanvasElement;
}) {
  return {
    id: "decor",
    beforeDatasetsDraw(chart: any) {
      const { ctx, chartArea } = chart;
      const { left, right, top, bottom } = chartArea;
      const sx = chart.scales.x;
      const sy = chart.scales.y;
      ctx.save();
      ctx.strokeStyle = "#000";
      ctx.lineWidth = 1;
      ctx.beginPath();
      for (const v of tickValues.slice(1, -1)) {
        const px = Math.round(sx.getPixelForValue(v)) + 0.5;
        const py = Math.round(sy.getPixelForValue(v)) + 0.5;
        ctx.moveTo(px, bottom);
        ctx.lineTo(px, bottom - 5);
        ctx.moveTo(left, py);
        ctx.lineTo(left + 5, py);
        if (cfg.ticks.top) {
          ctx.moveTo(px, top);
          ctx.lineTo(px, top + 5);
        }
        if (cfg.ticks.right) {
          ctx.moveTo(right, py);
          ctx.lineTo(right - 5, py);
        }
      }
      ctx.stroke();
      ctx.restore();
    },
    afterDraw(chart: any) {
      const ctx: CanvasRenderingContext2D = chart.ctx;
      ctx.save();
      ctx.fillStyle = "#000";
      ctx.font = `${cfg.titleSize}px ${FONT}`;
      ctx.textAlign = "center";
      ctx.textBaseline = "alphabetic";
      ctx.fillText(cfg.title, cfg.titleX, cfg.titleY);
      const L = cfg.legend;
      ctx.fillStyle = "#fff";
      ctx.fillRect(L.x, L.y, L.w, L.h);
      ctx.strokeStyle = "#000";
      ctx.lineWidth = 1;
      ctx.strokeRect(Math.round(L.x) + 0.5, Math.round(L.y) + 0.5, Math.round(L.w), Math.round(L.h));
      ctx.textAlign = "left";
      ctx.textBaseline = "middle";
      ctx.font = `14px ${FONT}`;
      L.items.forEach((it, i) => {
        const y = L.rows[i];
        if (it.line) {
          ctx.beginPath();
          ctx.moveTo(L.mx - L.half, Math.round(y) + 0.5);
          ctx.lineTo(L.mx + L.half, Math.round(y) + 0.5);
          ctx.stroke();
        }
        drawMarker(ctx, it.marker, L.mx, y, cfg.star);
        ctx.fillStyle = "#000";
        ctx.fillText(it.label, L.tx, y);
      });
      ctx.restore();
    },
  };
}

function withOrder(ds: any[]) {
  return ds.map((d, i) => ({ ...d, order: -i }));
}

function baseOptions(padRight: number, xBorder: any, yBorder: any) {
  return {
    animation: false,
    responsive: false,
    events: [],
    layout: { padding: { left: 0, right: padRight, top: 26, bottom: 0 } },
    plugins: { legend: { display: false }, tooltip: { enabled: false }, title: { display: false } },
    scales: { x: axis("x", xBorder, 25), y: axis("y", yBorder, 32) },
  };
}

export default function App() {
  const leftRef = useRef<HTMLCanvasElement>(null);
  const rightRef = useRef<HTMLCanvasElement>(null);

  useEffect(() => {
    const bigStar = makeStar(9.5);
    const rStar = makeStar(9);
    const legendStar = makeStar(7.5);

    const leftDatasets = withOrder([
      markDs(pairs(leftStreak, leftScatterWest, leftScatterNorth, leftClusterMid, leftCloudCentral,
        leftBandLower, leftBandSouthEast, leftClusterBottom, leftScatterEast), "circle", 1.8),
      lineDs(xy(leftBottomLineX, leftBottomLineY), { borderDash: [8, 6], borderWidth: 1.5, borderColor: "#222" }),
      lineDs(xy(leftTopLineX, leftTopLineY), { borderDash: [7, 5], borderColor: "#222" }),
      lineDs(xy(leftRightLineX, leftRightLineY), { borderDash: [8, 6], borderWidth: 1.5, borderColor: "#888" }),
      lineDs(xy(leftDiagLineX, leftDiagLineY), { borderDash: [6, 6], borderColor: "#000" }),
      lineDs(xy(leftRealX, leftRealY)),
      lineDs(xy(leftStarAX, leftStarAY)),
      lineDs(xy(leftStarBX, leftStarBY)),
      markDs(xy(leftRealX, leftRealY), "triangle", 11.5),
      markDs(xy(leftStarAX, leftStarAY), bigStar, 9),
      markDs(xy(leftStarBX, leftStarBY), bigStar, 9),
      markDs(xy(leftMinusX, leftMinusY), "circle", 9),
      markDs(xy(leftPlusX, leftPlusY), "rect", 10),
    ]);

    const left = new Chart(leftRef.current!, {
      type: "scatter",
      data: { datasets: leftDatasets as any },
      options: baseOptions(25, { display: true, color: "#999", width: 1.5 }, { display: true, color: "#000", width: 1 }) as any,
      plugins: [
        decorPlugin({
          title: leftTitle, titleSize: 18, titleX: 362, titleY: 16,
          ticks: { top: false, right: false },
          legend: {
            x: 68, y: 403, w: 163, h: 85, rows: [413.5, 430, 446, 462, 478], mx: 88, half: 12, tx: 110,
            items: [
              { label: leftLegendLabels[0], marker: "circle", line: true },
              { label: leftLegendLabels[1], marker: "rect", line: true },
              { label: leftLegendLabels[2], marker: "triangle", line: true },
              { label: leftLegendLabels[3], marker: "star", line: true },
              { label: leftLegendLabels[4], marker: "dot", line: false },
            ],
          },
          star: legendStar,
        }) as any,
      ],
    });

    const rightDatasets = withOrder([
      lineDs(xy(rightActualX, rightActualY)),
      lineDs(xy(rightPlusLineX, rightPlusLineY), { borderDash: [6, 5] }),
      lineDs(xy(rightMinusLineX, rightMinusLineY), { borderDash: [6, 5] }),
      markDs(pairs(rightDiagonal, rightDiagonalEdge, rightOutliersWest, rightClusterWest, rightBandEast, rightStreakSouth), "circle", 3.2),
      lineDs(xy(rightTopLineX, rightTopLineY), { borderWidth: 2.5 }),
      lineDs(xy(rightBottomLineX, rightBottomLineY), { borderWidth: 2.5 }),
      lineDs(xy(rightEdgeLineX, rightEdgeLineY), { borderWidth: 1 }),
      lineDs(xy(rightEstX, rightEstY)),
      markDs(xy(rightEstX, rightEstY), rStar, 9),
      markDs(xy(rightActualX, rightActualY), "triangle", 11),
      markDs(xy(rightMinusX, rightMinusY), "circle", 9),
      markDs(xy(rightPlusX, rightPlusY), "rect", 10),
    ]);

    const right = new Chart(rightRef.current!, {
      type: "scatter",
      data: { datasets: rightDatasets as any },
      options: baseOptions(18, { display: false }, { display: true, color: "#000", width: 1 }) as any,
      plugins: [
        decorPlugin({
          title: rightTitle, titleSize: 20.5, titleX: 340, titleY: 14,
          ticks: { top: true, right: true },
          legend: {
            x: 513, y: 34, w: 136, h: 48, rows: [43, 58.5, 73], mx: 529, half: 9, tx: 551.5,
            items: [
              { label: rightLegendLabels[0], marker: "circle", line: true },
              { label: rightLegendLabels[1], marker: "rect", line: true },
              { label: rightLegendLabels[2], marker: "triangle", line: true },
            ],
          },
          star: legendStar,
        }) as any,
      ],
    });

    return () => {
      left.destroy();
      right.destroy();
    };
  }, []);

  return (
    <div style={{ position: "absolute", left: 0, top: 0, width: 1353, height: 544, background: "#fff", overflow: "hidden" }}>
      <canvas ref={leftRef} width={680} height={544} style={{ position: "absolute", left: 0, top: 0, width: 680, height: 544 }} />
      <canvas ref={rightRef} width={673} height={544} style={{ position: "absolute", left: 680, top: 0, width: 673, height: 544 }} />
    </div>
  );
}
